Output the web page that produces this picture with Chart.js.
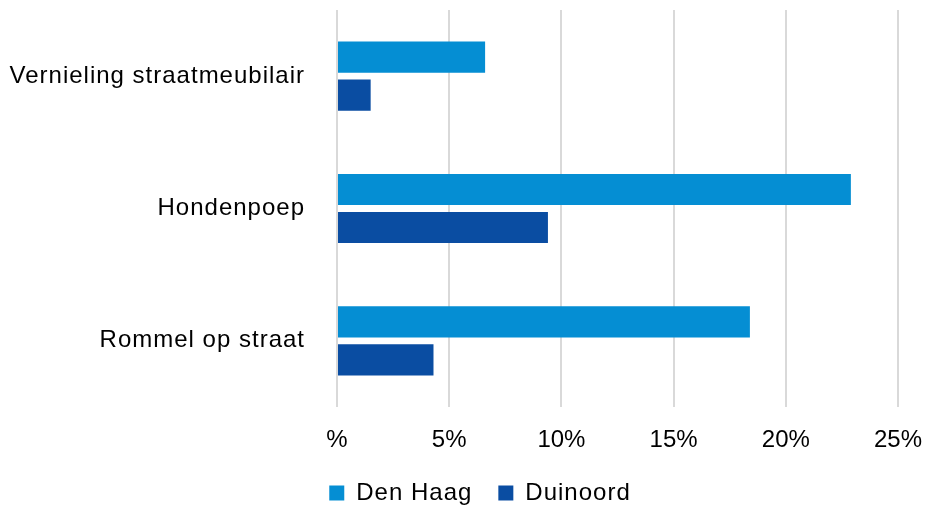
<!DOCTYPE html>
<html>
<head>
<meta charset="utf-8">
<script src="https://cdn.jsdelivr.net/npm/chart.js@4"></script>
<style>
  body { margin: 0; background: #fff; }
  #wrap { width: 926px; height: 507px; }
</style>
</head>
<body>
<div id="wrap"><canvas id="chart"></canvas></div>
<script>
const categories = ['Vernieling straatmeubilair', 'Hondenpoep', 'Rommel op straat'];
const denHaag = [6.6, 22.9, 18.4];
const duinoord = [1.5, 9.4, 4.3];
const seriesNames = ['Den Haag', 'Duinoord'];
const xMax = 25;
const xStep = 5;

const font = { family: '"Liberation Sans", Arial, sans-serif', size: 24 };

// Excel-like wider text for the category labels and the legend,
// x tick labels (z: 1) are drawn after the datasets without it
const spacing = {
  id: 'spacing',
  beforeDraw(chart) { chart.ctx.letterSpacing = '1px'; },
  afterDatasetsDraw(chart) { chart.ctx.letterSpacing = '0px'; },
  afterLayout(chart) { chart.scales.y.left = 0; } // don't clip long labels
};

new Chart(document.getElementById('chart'), {
  type: 'bar',
  data: {
    labels: categories,
    datasets: [{
      label: seriesNames[0],
      data: denHaag,
      backgroundColor: '#058ed3'
    }, {
      label: seriesNames[1],
      data: duinoord,
      backgroundColor: '#0a4da2'
    }]
  },
  options: {
    indexAxis: 'y',
    responsive: true,
    maintainAspectRatio: false,
    animation: false,
    categoryPercentage: 0.575,
    barPercentage: 0.82,
    layout: { padding: { left: 46, right: 28, top: 10, bottom: -8 } },
    scales: {
      x: {
        min: 0,
        max: xMax,
        ticks: {
          stepSize: xStep,
          color: '#000',
          font: font,
          padding: 19,
          z: 1,
          callback: v => v === 0 ? '%' : v + '%'
        },
        grid: { color: '#d9d9d9', lineWidth: 2, drawTicks: false },
        border: { display: false },
        afterFit: s => { s.height = 48; s.paddingLeft = 0; s.paddingRight = 0; }
      },
      y: {
        ticks: { color: '#000', font: font, padding: 24 },
        grid: { display: false },
        border: { display: false },
        afterFit: s => { s.width = 291; s.paddingTop = 0; s.paddingBottom = 0; }
      }
    },
    plugins: {
      legend: {
        position: 'bottom',
        labels: {
          color: '#000',
          font: font,
          boxWidth: 15,
          boxHeight: 15,
          padding: 26
        }
      },
      tooltip: { enabled: false }
    }
  },
  plugins: [spacing]
});
</script>
</body>
</html>
